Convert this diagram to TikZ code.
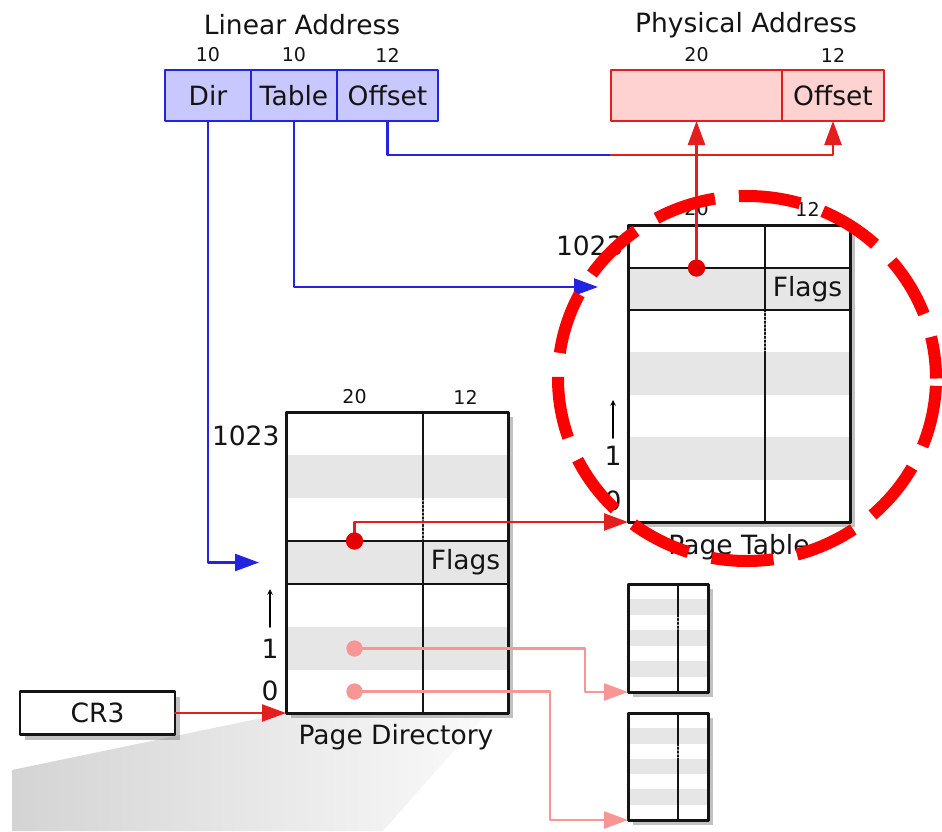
\documentclass[tikz,border=0pt]{standalone}
\usepackage{fontspec}
\setmainfont{DejaVu Sans}
\usetikzlibrary{arrows.meta,shadows}
\definecolor{linblue}{RGB}{35,35,225}
\definecolor{linfill}{RGB}{200,200,255}
\definecolor{physred}{RGB}{228,30,30}
\definecolor{physfill}{RGB}{255,210,210}
\definecolor{pinkred}{RGB}{248,150,150}
\definecolor{rowgray}{RGB}{230,230,230}
\definecolor{inkgray}{RGB}{20,20,20}
\tikzset{
  big/.style={font=\fontsize{26.5}{30}\selectfont},
  small/.style={font=\fontsize{19}{22}\selectfont},
  lincell/.style={draw=linblue,fill=linfill,line width=2pt,minimum height=51pt,inner sep=0pt,outer sep=0pt,big},
  physcell/.style={draw=physred,fill=physfill,line width=2pt,minimum height=51pt,inner sep=0pt,outer sep=0pt,big},
  boxshadow/.style={drop shadow={shadow xshift=5pt,shadow yshift=-5pt,opacity=.4,fill=black!60}},
  tabbox/.style={draw=inkgray,fill=white,line width=3pt,inner sep=0pt,outer sep=0pt,anchor=north west,boxshadow},
  tabline/.style={draw=inkgray,line width=3pt},
  tip/.style={-{Triangle[length=24pt,width=17pt]}},
  blueline/.style={draw=linblue,line width=2.4pt},
  redline/.style={draw=physred,line width=2.4pt},
  pinkline/.style={draw=pinkred,line width=2.4pt},
  dot/.style={circle,fill=red!90!black,inner sep=0pt,minimum size=17pt},
  pinkdot/.style={circle,fill=pinkred,inner sep=0pt,minimum size=16pt},
}
\begin{document}
\begin{tikzpicture}[x=1pt,y=-1pt,>=stealth,big,text=inkgray,line join=round,line cap=round]
\useasboundingbox[fill=white] (0,0) rectangle (942,831);
\shade[left color=black!17,right color=black!2] (12,770) -- (286,713) -- (487,713) -- (383,831) -- (12,831) -- cycle;

\node (lintitle) at (302,25) {Linear Address};
\node (phystitle) at (746,25) {Physical Address};
\node[small] (ndir) at (208,55) {10};
\node[small] (ntab) at (294,55) {10};
\node[small] (noff) at (387.5,55) {12};
\node[small] (nframe) at (696.5,55) {20};
\node[small] (npoff) at (833,55) {12};
\node[lincell,minimum width=86pt] (dir) at (208,95.5) {Dir};
\node[lincell,minimum width=86pt] (tab) at (294,95.5) {Table};
\node[lincell,minimum width=101pt] (off) at (387.5,95.5) {Offset};
\node[physcell,minimum width=171pt] (pframe) at (696.5,95.5) {};
\node[physcell,minimum width=102pt] (poff) at (833,95.5) {Offset};

\foreach \nm/\xa/\ya/\xb/\yb/\xd in {pd/286/412/508/713/423, pt/628/225/850/522/765, ta/628/584/708/692/678, tb/628/713/708/820/678}{
  \pgfmathsetmacro\h{(\yb-\ya)/7}
  \node[tabbox,minimum width={(\xb-\xa)*1pt},minimum height={(\yb-\ya)*1pt}] (\nm) at (\xa,\ya) {};
  \foreach \r in {1,3,5}
    \fill[rowgray] (\xa,\ya+\r*\h) rectangle (\xb,\ya+\r*\h+\h);
  \draw[tabline,line width=2.4pt] (\xd,\ya) -- (\xd,\ya+2*\h) (\xd,\ya+3*\h) -- (\xd,\yb);
  \draw[inkgray,line width=1.8pt,dotted] (\xd,\ya+2*\h) -- (\xd,\ya+3*\h);
  \draw[tabline] (\nm.north west) rectangle (\nm.south east);
}
\draw[tabline,line width=2.4pt] (286,541) -- (508,541) (286,584) -- (508,584);
\draw[tabline,line width=2.4pt] (628,268) -- (850,268) (628,310) -- (850,310);

\node[small] (pd20) at (354.5,397) {20};
\node[small] (pd12) at (465.5,397) {12};
\node[anchor=east] (pdtop) at (283,436) {1023};
\node (pdone) at (270,649) {1};
\node (pdzero) at (270,691) {0};
\draw[->,line width=1.5pt] (270,627) -- (270,589);
\node (pdflags) at (465.5,562.5) {Flags};
\node (pdname) at (396,737) {Page Directory};

\node[small] (pt20) at (696.5,209) {20};
\node[small] (pt12) at (807.5,209) {12};
\node[anchor=east] (pttop) at (627,246) {1023};
\node (ptone) at (613,456) {1};
\node (ptzero) at (613,501) {0};
\draw[->,line width=1.5pt] (613,438) -- (613,400);
\node (ptflags) at (807.5,289) {Flags};
\node (ptname) at (739,547) {Page Table};

\node[draw=inkgray,fill=white,line width=2.6pt,outer sep=0pt,minimum width=155pt,minimum height=43pt,boxshadow] (cr3) at (97.5,713) {CR3};

\node[dot] (pdd) at (354.5,541) {};
\node[dot] (ptd) at (696.5,268) {};
\node[pinkdot] (pd1) at (354.5,648.5) {};
\node[pinkdot] (pd0) at (354.5,691.5) {};

\coordinate (pdin) at (259,562.5);
\coordinate (ptin) at (598,287);
\coordinate (offturn) at (611,155);
\coordinate (bend1) at (585,670);
\coordinate (bend0) at (550,760);

\draw[blueline,tip] (dir.south) |- (pdin);
\draw[blueline,tip] (tab.south) |- (ptin);
\draw[blueline] (off.south) |- (offturn);
\draw[redline,tip] (offturn) -| (poff.south);
\draw[redline,tip] (ptd.center) -- (pframe.south);
\draw[redline,tip] (pdd.center) |- (pt.south west);
\draw[pinkline,tip] (pd1.center) -| (bend1) |- (ta.south west);
\draw[pinkline,tip] (pd0.center) -| (bend0) |- (tb.south west);
\draw[redline,tip] (cr3) -- (pd.south west);
\node[dot] at (pdd) {};
\node[dot] at (ptd) {};
\node[pinkdot] at (pd1) {};
\node[pinkdot] at (pd0) {};

\draw[red,line width=12pt,line cap=butt,dash pattern=on 62pt off 24pt,dash phase=20pt]
  (747,378.5) ellipse [x radius=189pt,y radius=182.5pt];
\end{tikzpicture}
\end{document}
